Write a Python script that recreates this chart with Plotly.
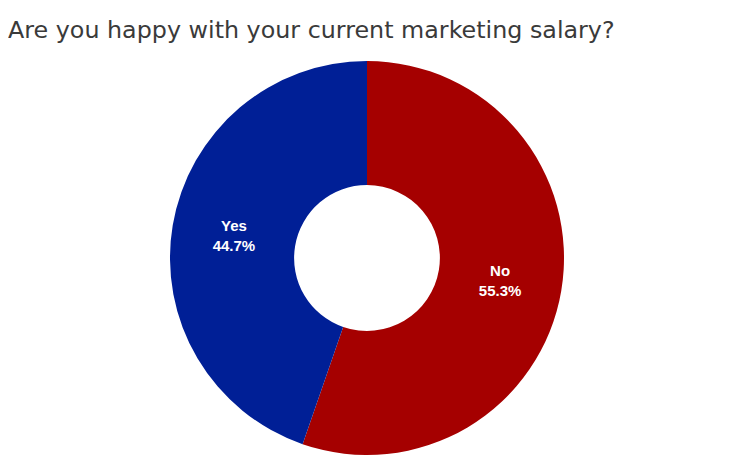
import plotly.graph_objects as go

labels = ["No", "Yes"]
values = [55.3, 44.7]
colors = ["#A50000", "#001F96"]
title_text = "Are you happy with your current marketing salary?"

fig = go.Figure(go.Pie(
    labels=labels,
    values=values,
    hole=0.37,
    sort=False,
    direction="clockwise",
    rotation=0,
    marker=dict(colors=colors, line=dict(color="white", width=0)),
    texttemplate="<b>%{label}<br>%{percent:.1%}</b>",
    textposition="inside",
    insidetextorientation="horizontal",
    textfont=dict(family="Liberation Sans, Arial, sans-serif", size=15, color="white"),
    showlegend=False,
    hoverinfo="label+percent",
))

# page body has an 8px margin, so positions are compensated
fig.update_layout(
    width=735, height=460,
    margin=dict(l=162, r=179, t=53, b=13),
    paper_bgcolor="white",
    plot_bgcolor="white",
    annotations=[dict(
        text=title_text,
        xref="paper", yref="paper",
        x=(-2 - 162) / 394, xanchor="left",
        y=1 + (53 - 22) / 394, yanchor="middle",
        showarrow=False,
        font=dict(family="DejaVu Sans, sans-serif", size=23.8, color="#3a3a3a"),
    )],
)

fig.write_html("out.html")
